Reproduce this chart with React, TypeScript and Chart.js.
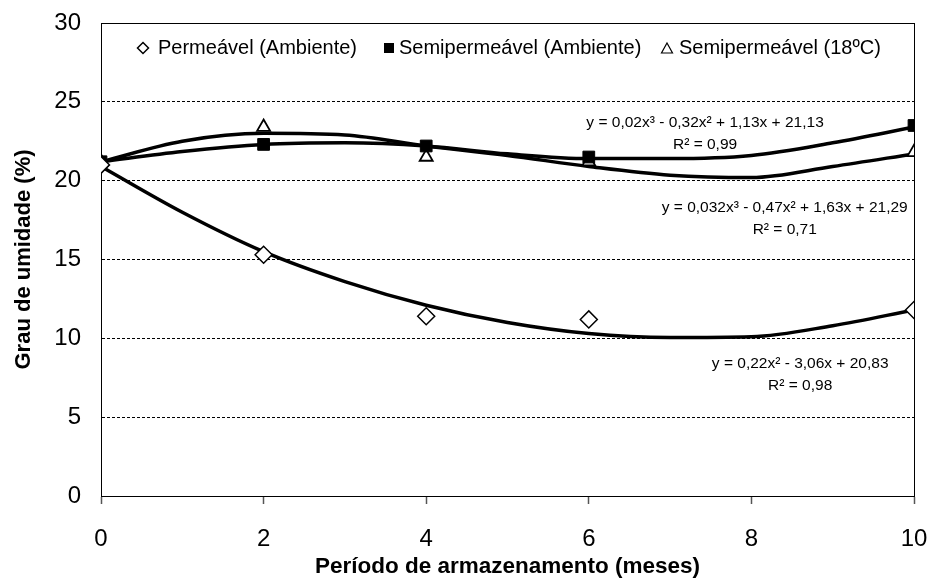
import React, { useEffect, useRef } from "react";
import { Chart, registerables } from "chart.js";

Chart.register(...registerables);

// ---- data ----
const months = [0, 2, 4, 6, 10];
const permeavel = [21.0, 15.3, 11.4, 11.2, 11.8];
const semiAmbiente = [21.2, 22.3, 22.2, 21.5, 23.5];
const semi18 = [21.2, 23.4, 21.5, 21.2, 21.8];

// fitted trend curves
const trendMonths = [0, 1, 2, 3, 4, 5, 6, 7, 8, 9, 10];
const trendPermeavel = [20.9, 18.0, 15.5, 13.6, 12.1, 11.0, 10.3, 10.05, 10.1, 10.8, 11.8];
const trendSemiAmbiente = [21.2, 21.85, 22.3, 22.4, 22.2, 21.7, 21.4, 21.4, 21.6, 22.4, 23.4];
const trendSemi18 = [21.2, 22.5, 23.0, 22.9, 22.2, 21.6, 20.9, 20.35, 20.2, 20.9, 21.7];

const xTickValues = [0, 2, 4, 6, 8, 10];
const yTickValues = [0, 5, 10, 15, 20, 25, 30];

const seriesLabels = ["Permeável (Ambiente)", "Semipermeável (Ambiente)", "Semipermeável (18ºC)"];
const xTitle = "Período de armazenamento (meses)";
const yTitle = "Grau de umidade (%)";

const equationLines = [
  ["y = 0,02x³ - 0,32x² + 1,13x + 21,13", "R² = 0,99"],
  ["y = 0,032x³ - 0,47x² + 1,63x + 21,29", "R² = 0,71"],
  ["y = 0,22x² - 3,06x + 20,83", "R² = 0,98"],
];
const equationAnchorX = [7.43, 8.41, 8.6];
const equationAnchorY = [23.7, 18.26, 8.37];

const FONT = '"Liberation Sans", Arial, sans-serif';

const pts = (xs: number[], ys: number[]) => xs.map((x, i) => ({ x, y: ys[i] }));

const overlayPlugin = {
  id: "overlay",
  beforeDatasetsDraw(chart: any) {
    const { ctx, chartArea: a } = chart;
    ctx.save();
    ctx.strokeStyle = "#000";
    ctx.lineWidth = 1;
    ctx.setLineDash([]);
    const l = Math.round(a.left) + 0.5;
    const t = Math.round(a.top) + 0.5;
    const r = Math.round(a.right) + 0.5;
    const b = Math.round(a.bottom) + 0.5;
    ctx.strokeRect(l, t, r - l, b - t);
    ctx.restore();
  },
  afterDraw(chart: any) {
    const { ctx, chartArea: a, scales } = chart;
    const xs = scales.x;
    const ys = scales.y;
    ctx.save();
    // legend
    const ly = a.top + 25;
    ctx.font = `20px ${FONT}`;
    ctx.fillStyle = "#000";
    ctx.textAlign = "left";
    ctx.textBaseline = "middle";
    ctx.strokeStyle = "#000";
    ctx.lineWidth = 1.5;
    // diamond
    let cx = a.left + 42;
    ctx.beginPath();
    ctx.moveTo(cx, ly - 5.5);
    ctx.lineTo(cx + 5.5, ly);
    ctx.lineTo(cx, ly + 5.5);
    ctx.lineTo(cx - 5.5, ly);
    ctx.closePath();
    ctx.fillStyle = "#fff";
    ctx.fill();
    ctx.stroke();
    ctx.fillStyle = "#000";
    ctx.fillText(seriesLabels[0], a.left + 57, ly);
    // square
    cx = a.left + 288;
    ctx.fillRect(cx - 5, ly - 5, 10, 10);
    ctx.fillText(seriesLabels[1], a.left + 298, ly);
    // triangle
    cx = a.left + 566;
    ctx.beginPath();
    ctx.moveTo(cx, ly - 5);
    ctx.lineTo(cx + 5.5, ly + 5);
    ctx.lineTo(cx - 5.5, ly + 5);
    ctx.closePath();
    ctx.lineWidth = 1.2;
    ctx.stroke();
    ctx.fillText(seriesLabels[2], a.left + 578, ly);

    // equations
    ctx.font = `15.5px ${FONT}`;
    ctx.textAlign = "center";
    equationLines.forEach((lines, i) => {
      const px = xs.getPixelForValue(equationAnchorX[i]);
      const py = ys.getPixelForValue(equationAnchorY[i]);
      ctx.fillText(lines[0], px, py);
      ctx.fillText(lines[1], px, py + 22);
    });
    ctx.restore();
  },
};

export default function App() {
  const canvasRef = useRef<HTMLCanvasElement | null>(null);

  useEffect(() => {
    if (!canvasRef.current) return;
    const lineCommon = {
      showLine: true,
      pointRadius: 0,
      pointHoverRadius: 0,
      borderColor: "#000",
      borderWidth: 3.5,
      fill: false,
      cubicInterpolationMode: "monotone" as const,
      order: 2,
    };
    const chart = new Chart(canvasRef.current, {
      type: "scatter",
      data: {
        datasets: [
          { ...lineCommon, label: "trend-perm", data: pts(trendMonths, trendPermeavel) },
          { ...lineCommon, label: "trend-amb", data: pts(trendMonths, trendSemiAmbiente) },
          { ...lineCommon, label: "trend-18", data: pts(trendMonths, trendSemi18) },
          {
            label: seriesLabels[0],
            data: pts(months, permeavel),
            showLine: false,
            pointStyle: "rectRot",
            pointRadius: 8.5,
            backgroundColor: "#fff",
            borderColor: "#000",
            borderWidth: 1.5,
            order: 1,
          },
          {
            label: seriesLabels[1],
            data: pts(months, semiAmbiente),
            showLine: false,
            pointStyle: "rect",
            pointRadius: 8.3,
            backgroundColor: "#000",
            borderColor: "#000",
            borderWidth: 1,
            order: 1,
          },
          {
            label: seriesLabels[2],
            data: pts(months, semi18),
            showLine: false,
            pointStyle: "triangle",
            pointRadius: 7.5,
            backgroundColor: "#fff",
            borderColor: "#000",
            borderWidth: 1.8,
            order: 1,
          },
        ],
      },
      options: {
        animation: false,
        responsive: true,
        maintainAspectRatio: false,
        events: [],
        layout: { padding: { top: 23, right: 18, left: 0, bottom: 0 } },
        plugins: {
          legend: { display: false },
          tooltip: { enabled: false },
        },
        scales: {
          x: {
            type: "linear",
            min: 0,
            max: 10,
            afterFit: (s: any) => {
              s.height = 82;
              s.paddingLeft = 0;
              s.paddingRight = 0;
            },
            afterBuildTicks: (s: any) => {
              s.ticks = xTickValues.map((v) => ({ value: v }));
            },
            ticks: {
              color: "#000",
              font: { family: FONT, size: 24 },
              padding: 21,
              maxRotation: 0,
            },
            grid: {
              display: true,
              drawOnChartArea: false,
              drawTicks: true,
              tickLength: 8,
              tickColor: "#555",
              tickWidth: 1.5,
            },
            border: { display: true, color: "#000", width: 1 },
            title: {
              display: true,
              text: xTitle,
              color: "#000",
              font: { family: FONT, size: 22.5, weight: "bold", lineHeight: 1 },
              padding: { top: 0, bottom: 0 },
            },
          },
          y: {
            type: "linear",
            min: 0,
            max: 30,
            afterFit: (s: any) => {
              s.width = 101;
              s.paddingTop = 0;
              s.paddingBottom = 0;
            },
            afterBuildTicks: (s: any) => {
              s.ticks = yTickValues.map((v) => ({ value: v }));
            },
            ticks: {
              color: "#000",
              font: { family: FONT, size: 24 },
              padding: 20,
            },
            grid: {
              display: true,
              drawTicks: false,
              color: "#000",
              lineWidth: 1,
            },
            border: { display: true, color: "#000", width: 1, dash: [3, 2] },
            title: {
              display: true,
              text: yTitle,
              color: "#000",
              font: { family: FONT, size: 22, weight: "bold", lineHeight: 1 },
              padding: { top: 13, bottom: 0 },
            },
          },
        },
      },
      plugins: [overlayPlugin],
    } as any);
    return () => chart.destroy();
  }, []);

  return (
    <div style={{ position: "absolute", left: 0, top: 0, width: 932, height: 578, background: "#fff" }}>
      <canvas ref={canvasRef} />
    </div>
  );
}
